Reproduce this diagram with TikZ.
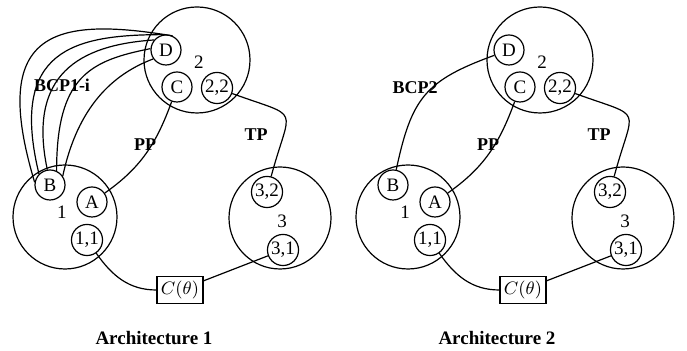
\documentclass[tikz,border=0pt]{standalone}
\usepackage{fontspec}
\setmainfont{Liberation Serif}
\usetikzlibrary{calc}

\begin{document}
\begin{tikzpicture}[x=0.5pt,y=0.5pt,line width=0.6pt,
  every node/.style={font=\fontsize{9.5}{11}\selectfont},
  party/.style={draw,circle,minimum size=#1,inner sep=0pt},
  share/.style={draw,circle,minimum size=15pt,inner sep=0.5pt},
  tag/.style={font=\fontsize{9}{11}\selectfont\bfseries,inner sep=0pt}]
  \useasboundingbox (0,0) rectangle (687,351);

  %% Parties, shares and the common links of both architectures
  \foreach \k/\dx in {1/0,2/343}
  {
    \node[party=52pt] (P1-\k) at (\dx+65,134)  {};
    \node[party=53pt] (P2-\k) at (\dx+197,291) {};
    \node[party=51pt] (P3-\k) at (\dx+280,133) {};
    \node (L1-\k) at (\dx+62,139)  {1};
    \node (L2-\k) at (\dx+199,289) {2};
    \node (L3-\k) at (\dx+282,130) {3};

    \node[share] (A-\k)   at (\dx+92,149)  {A};
    \node[share] (B-\k)   at (\dx+50,166)  {B};
    \node[share] (C-\k)   at (\dx+177,264) {C};
    \node[share] (D-\k)   at (\dx+166,301) {D};
    \node[share] (S11-\k) at (\dx+87,111)  {1,1};
    \node[share] (S22-\k) at (\dx+217,263) {2,2};
    \node[share] (S32-\k) at (\dx+267,159) {3,2};
    \node[share] (S31-\k) at (\dx+283,101) {3,1};

    \node[draw,minimum width=23pt,minimum height=13.5pt,inner sep=1pt] (CT-\k) at (\dx+180,61) {$C(\theta)$};
    \node[tag] (PP-\k) at (\dx+145,206) {PP};
    \node[tag] (TP-\k) at (\dx+256,216) {TP};
    \node[tag,font=\fontsize{9.5}{11}\selectfont\bfseries] (T-\k) at (\dx+154,13) {Architecture \k};

    \draw (A-\k) to[out=35,in=-110] (C-\k);
    \draw (S22-\k) to[out=-20,in=75,looseness=2.1] (S32-\k);
    \draw (S11-\k) to[out=-55,in=180] (CT-\k);
    \draw (CT-\k) -- (S31-\k);
  }

  %% Architecture 1: several B--D links
  \node[tag] (BCP1) at (62,266) {BCP1-i};
  \draw (B-1.170) .. controls +(-45,150) and +(-121,20) .. (D-1.65);
  \draw (B-1.135) .. controls +(-30,124) and +(-90,0)   .. (D-1.100);
  \draw (B-1.100) .. controls +(-20,95)  and +(-75,-5)  .. (D-1.140);
  \draw (B-1.65)  .. controls +(0,95)    and +(-60,-12) .. (D-1.175);
  \draw (B-1.35)  .. controls +(15,70)   and +(-40,-15) .. (D-1.215);

  %% Architecture 2: one B--D link
  \node[tag] (BCP2) at (415,263) {BCP2};
  \draw (B-2) to[out=78,in=200,looseness=1.25] (D-2);
\end{tikzpicture}
\end{document}
